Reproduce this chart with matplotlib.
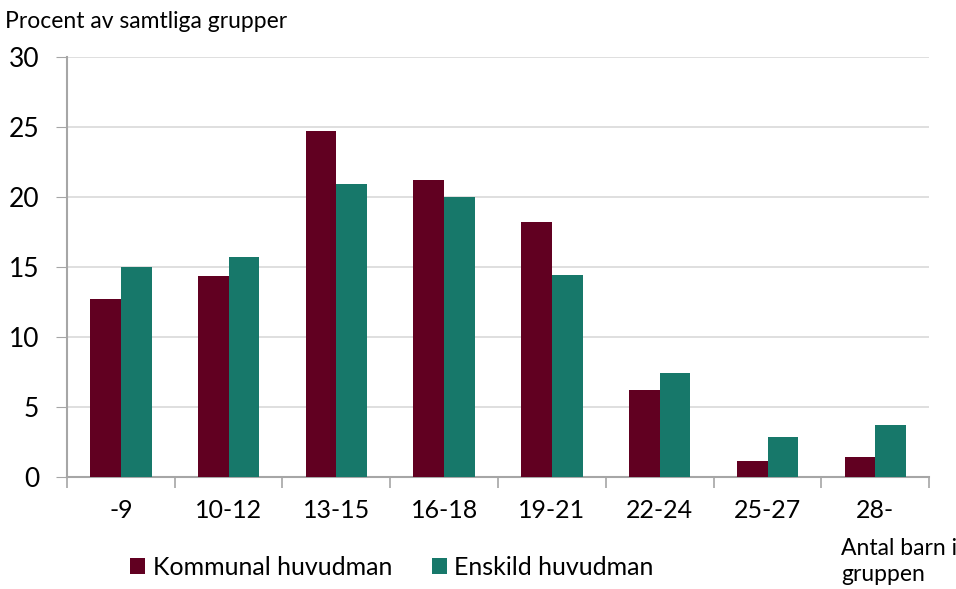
import matplotlib
matplotlib.use("Agg")
import matplotlib.pyplot as plt
import numpy as np

# data
categories = ["-9", "10-12", "13-15", "16-18", "19-21", "22-24", "25-27", "28-"]
kommunal = [12.7, 14.3, 24.7, 21.2, 18.2, 6.2, 1.1, 1.4]
enskild = [15.0, 15.7, 20.9, 20.0, 14.4, 7.4, 2.8, 3.7]
series_names = ["Kommunal huvudman", "Enskild huvudman"]

RED = "#610021"
TEAL = "#17786a"
AXIS = "#a6a6a6"
GRID = "#d9d9d9"

plt.rcParams.update({
    "font.family": ["Lato", "DejaVu Sans"],
    "font.size": 13,
})

fig = plt.figure(figsize=(9.56, 5.89), dpi=100)
ax = fig.add_axes([0.070, 0.1907, 0.902, 0.713])

x = np.arange(len(categories))
w = 0.285
ax.bar(x - w / 2, kommunal, w, color=RED, label=series_names[0], zorder=3)
ax.bar(x + w / 2, enskild, w, color=TEAL, label=series_names[1], zorder=3)

ax.set_xlim(-0.5, len(categories) - 0.5)
ax.set_ylim(0, 30)
ax.set_yticks(range(0, 31, 5))
ax.yaxis.grid(True, color=GRID, linewidth=1.2, zorder=0)
ax.tick_params(axis="y", labelsize=19, length=8, color=AXIS, pad=12)

# boundary ticks without labels, labels at category centres
ax.set_xticks(np.arange(-0.5, len(categories)), labels=[""] * (len(categories) + 1))
ax.set_xticks(x, labels=categories, minor=True)
ax.tick_params(axis="x", which="major", length=8, color=AXIS, width=1.2)
ax.tick_params(axis="x", which="minor", length=0, labelsize=18, pad=16)

for s in ["top", "right"]:
    ax.spines[s].set_visible(False)
for s in ["left", "bottom"]:
    ax.spines[s].set_color(AXIS)
    ax.spines[s].set_linewidth(1.5)

fig.text(0.005, 1 - 22 / 589, "Procent av samtliga grupper", fontsize=16.5, va="center")
fig.text(841 / 956, 1 - 538 / 589, "Antal barn i\ngruppen", fontsize=16.5, va="top",
         linespacing=1.3)

fig.legend(loc="center", bbox_to_anchor=(0.41, 0.037), ncol=2, frameon=False,
           fontsize=18, handlelength=0.6, handleheight=0.6, handletextpad=0.3,
           columnspacing=1.6)

fig.savefig("out.png", dpi=100)
